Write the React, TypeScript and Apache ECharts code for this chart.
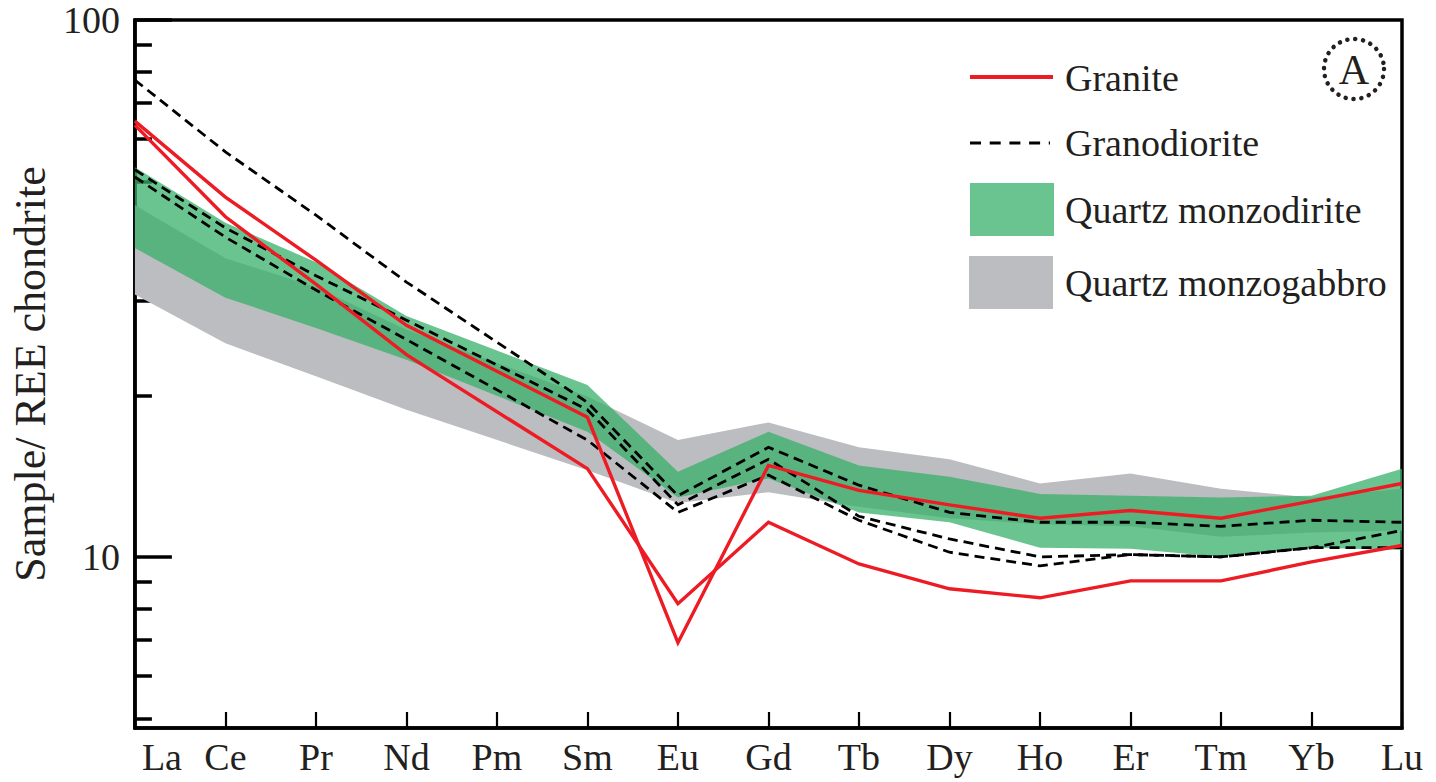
import { useEffect, useRef } from 'react';
import * as echarts from 'echarts';

// Rare earth elements along the x axis (Pm has no analyses; lines bridge it)
const elements = ['La', 'Ce', 'Pr', 'Nd', 'Pm', 'Sm', 'Eu', 'Gd', 'Tb', 'Dy', 'Ho', 'Er', 'Tm', 'Yb', 'Lu'];

// Granite samples (chondrite-normalised)
const granite1 = [64.8, 46.8, 35.7, 27.0, null, 18.2, 6.92, 14.8, 13.3, 12.5, 11.8, 12.2, 11.8, 12.7, 13.7];
const granite2 = [63.7, 43.0, 32.2, 23.8, null, 14.6, 8.18, 11.6, 9.7, 8.72, 8.39, 9.02, 9.02, 9.79, 10.5];

// Granodiorite samples
const granodiorite1 = [77.3, 56.8, 43.3, 32.5, null, 19.4, 13.0, 16.0, 13.6, 12.1, 11.6, 11.6, 11.4, 11.7, 11.6];
const granodiorite2 = [52.6, 41.0, 33.4, 27.6, null, 18.8, 12.5, 15.2, 11.9, 10.8, 10.0, 10.1, 10.0, 10.4, 10.4];
const granodiorite3 = [51.0, 39.4, 31.4, 25.4, null, 16.5, 12.1, 14.2, 11.7, 10.2, 9.62, 10.1, 10.0, 10.4, 11.2];

// Quartz monzodiorite envelope
const qmdUpper = [53.2, 41.9, 35.4, 28.1, null, 20.9, 14.4, 17.1, 14.8, 14.1, 13.1, 13.0, 12.9, 13.0, 14.6];
const qmdLower = [37.6, 30.4, 26.7, 23.3, null, 17.1, 12.9, 14.0, 12.1, 11.6, 10.4, 10.35, 10.0, 10.4, 10.3];

// Quartz monzogabbro envelope
const qmgUpper = [45.2, 36.0, 31.8, 26.5, null, 19.9, 16.5, 17.8, 16.0, 15.2, 13.7, 14.3, 13.4, 12.9, 13.4];
const qmgLower = [30.8, 25.0, 21.7, 18.8, null, 14.5, 12.6, 13.2, 12.4, 11.8, 11.5, 11.4, 10.9, 11.1, 11.2];

// Axis ticks
const yMajorTicks = [10, 100];
const yMinorTicks = [5, 6, 7, 8, 9, 20, 30, 40, 50, 60, 70, 80, 90];

const FONT = "'Liberation Serif', 'Times New Roman', serif";
const TEXT = '#231f20';
const RED = '#ed1c24';
const GREEN_LIGHT = '#6ac48f';
const GREEN_FILL = 'rgba(56,176,106,0.75)';
const GRAY = '#bcbdc0';

type Num = number | null;

function bandSeries(name: string, lower: Num[], upper: Num[], fill: string) {
  return {
    type: 'custom',
    name,
    silent: true,
    data: [[0, lower[0]]],
    renderItem: (_params: any, api: any) => {
      const top: number[][] = [];
      const bottom: number[][] = [];
      elements.forEach((_, i) => {
        const u = upper[i];
        const l = lower[i];
        if (u != null) top.push(api.coord([i, u]));
        if (l != null) bottom.push(api.coord([i, l]));
      });
      return {
        type: 'polygon',
        shape: { points: top.concat(bottom.reverse()) },
        style: { fill, stroke: null },
      };
    },
  };
}

function lineSeries(name: string, data: Num[], color: string, width: number, dash?: number[]) {
  return {
    type: 'line',
    name,
    data,
    connectNulls: true,
    symbol: 'none',
    silent: true,
    lineStyle: { color, width, type: dash ?? 'solid', cap: 'butt', join: 'miter' },
  };
}

export default function App() {
  const ref = useRef<HTMLDivElement>(null);

  useEffect(() => {
    if (!ref.current) return;
    const chart = echarts.init(ref.current, undefined, { renderer: 'svg' });
    const dash = [10, 6];

    chart.setOption({
      animation: false,
      backgroundColor: '#ffffff',
      grid: {
        left: 133,
        right: 34,
        top: 20,
        bottom: 54,
        show: true,
        borderColor: '#000',
        borderWidth: 3.5,
        backgroundColor: 'transparent',
      },
      xAxis: {
        type: 'category',
        data: elements,
        boundaryGap: false,
        axisLine: { show: true, lineStyle: { color: '#000', width: 3.5 } },
        axisTick: { show: true, inside: true, length: 16, interval: 0, lineStyle: { color: '#000', width: 2.2 } },
        axisLabel: {
          interval: 0,
          margin: 10,
          color: TEXT,
          fontFamily: FONT,
          fontSize: 38,
          alignMinLabel: 'left',
          formatter: (v: string, i: number) => (i === 0 ? `{first|${v}}` : v),
          rich: { first: { padding: [0, 0, 0, 7], fontFamily: FONT, fontSize: 38, color: TEXT } },
        },
        splitLine: { show: false },
      },
      yAxis: [
        {
          type: 'log',
          logBase: 10,
          min: 4.8,
          max: 100,
          name: 'Sample/ REE chondrite',
          nameLocation: 'middle',
          nameGap: 76,
          nameTextStyle: { fontFamily: FONT, fontSize: 44, color: TEXT },
          axisLine: { show: true, lineStyle: { color: '#000', width: 3.5 } },
          axisTick: { show: true, inside: true, length: 37, customValues: yMajorTicks, lineStyle: { color: '#000', width: 3.5 } },
          axisLabel: {
            customValues: yMajorTicks,
            margin: 15,
            color: TEXT,
            fontFamily: FONT,
            fontSize: 38,
            padding: [8, 0, 0, 0],
            formatter: (v: number) => String(Math.round(v)),
          },
          splitLine: { show: false },
        },
        {
          type: 'log',
          logBase: 10,
          min: 4.8,
          max: 100,
          position: 'left',
          axisLine: { show: false },
          axisTick: { show: true, inside: true, length: 17, customValues: yMinorTicks, lineStyle: { color: '#000', width: 3.5 } },
          axisLabel: { show: false },
          splitLine: { show: false },
        },
      ],
      series: [
        bandSeries('Quartz monzogabbro', qmgLower, qmgUpper, GRAY),
        bandSeries('Quartz monzodirite', qmdLower, qmdUpper, GREEN_FILL),
        lineSeries('Granodiorite', granodiorite1, '#000', 2.8, dash),
        lineSeries('Granodiorite', granodiorite2, '#000', 2.8, dash),
        lineSeries('Granodiorite', granodiorite3, '#000', 2.8, dash),
        lineSeries('Granite', granite1, RED, 3.4),
        lineSeries('Granite', granite2, RED, 3.4),
      ],
      graphic: [
        // legend
        { type: 'line', shape: { x1: 970, y1: 77, x2: 1053, y2: 77 }, style: { stroke: RED, lineWidth: 4 } },
        { type: 'text', x: 1065, y: 78, style: { text: 'Granite', fontFamily: FONT, fontSize: 38, fill: TEXT, align: 'left', verticalAlign: 'middle' } },
        { type: 'line', shape: { x1: 970, y1: 143, x2: 1050, y2: 143 }, style: { stroke: '#000', lineWidth: 2.8, lineDash: [11, 8.7] } },
        { type: 'text', x: 1065, y: 143, style: { text: 'Granodiorite', fontFamily: FONT, fontSize: 38, fill: TEXT, align: 'left', verticalAlign: 'middle' } },
        { type: 'rect', shape: { x: 970, y: 183, width: 84, height: 53 }, style: { fill: GREEN_LIGHT } },
        { type: 'text', x: 1065, y: 210, style: { text: 'Quartz monzodirite', fontFamily: FONT, fontSize: 38, fill: TEXT, align: 'left', verticalAlign: 'middle' } },
        { type: 'rect', shape: { x: 969, y: 256, width: 84, height: 53 }, style: { fill: GRAY } },
        { type: 'text', x: 1065, y: 283, style: { text: 'Quartz monzogabbro', fontFamily: FONT, fontSize: 38, fill: TEXT, align: 'left', verticalAlign: 'middle' } },
        // panel label
        { type: 'circle', shape: { cx: 1354, cy: 69, r: 30 }, style: { fill: 'none', stroke: '#231f20', lineWidth: 4.5, lineDash: [0.1, 7.8], lineCap: 'round' } },
        { type: 'text', x: 1354, y: 70, style: { text: 'A', fontFamily: FONT, fontSize: 42, fill: TEXT, align: 'center', verticalAlign: 'middle' } },
      ],
    });

    return () => chart.dispose();
  }, []);

  return <div ref={ref} style={{ position: 'absolute', left: 0, top: 0, width: 1436, height: 782 }} />;
}
